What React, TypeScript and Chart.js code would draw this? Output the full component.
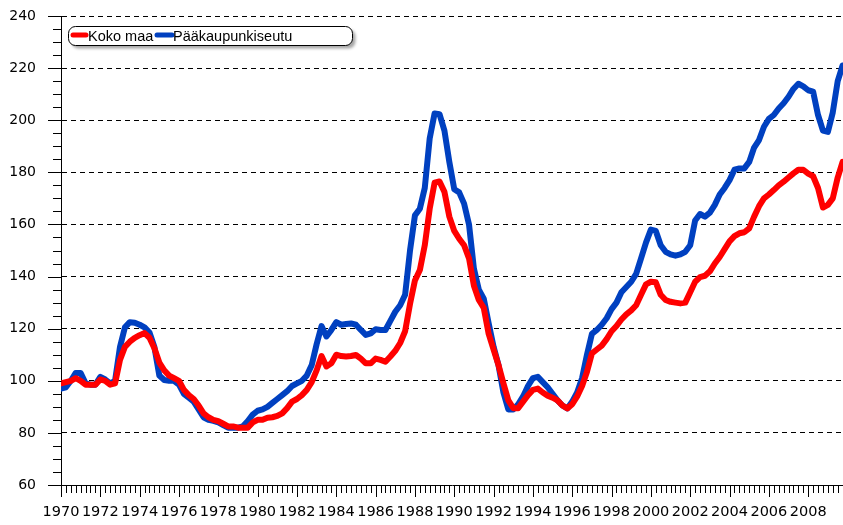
import React, { useEffect, useRef } from 'react';
import { Chart, registerables } from 'chart.js';

Chart.register(...registerables);

// Quarterly index values, 1970 Q1 – 2009 Q4 (1970 ≈ 100)
const START_YEAR = 1970;
const QUARTERS_PER_YEAR = 4;

const kokoMaa: number[] = [
  99, 99.5, 100, 101,
  100, 98.5, 98.5, 98.5,
  100.5, 100, 98.5, 99,
  108, 113, 115, 116.5,
  117.5, 118.3, 116.5, 112.5,
  107, 104, 102, 101,
  100, 96.5, 94.5, 93,
  90.5, 87.5, 86, 85,
  84.5, 83.5, 82.5, 82.5,
  82, 82, 82, 84,
  85, 85, 85.8, 86,
  86.5, 87.5, 89.5, 92,
  93, 94.5, 96.5, 99.5,
  104, 109.5, 105.5, 106.7,
  110, 109.5, 109.3, 109.5,
  109.9, 108.5, 106.7, 106.7,
  108.5, 108, 107.3, 109.3,
  111.5, 114.5, 119, 129.5,
  138.5, 142.5, 152, 166,
  176, 176.5, 172.5, 163,
  157.5, 154.5, 152, 147,
  136.5, 131, 128, 118,
  112, 106, 99, 92.5,
  89.5, 89.5, 92, 94.5,
  96.5, 97, 95.5, 94.3,
  93.5, 92.5, 90.5, 89.4,
  91, 94, 98, 103.5,
  110.5, 112, 113.5, 116,
  119, 121, 123.5, 125.5,
  127, 129, 133, 137,
  138, 137.8, 133, 131,
  130.3, 130, 129.7, 130,
  134, 138, 139.8, 140.3,
  142, 145, 147.5, 150.5,
  153.5, 155.5, 156.6, 157,
  158.5, 163, 167, 170,
  171.5, 173.2, 175, 176.4,
  178, 179.6, 181, 181,
  179.5, 178.5, 174, 166.5,
  167.5, 170, 178, 184,
];

const paakaupunkiseutu: number[] = [
  97, 97.5, 100, 103,
  103, 99, 98.5, 98.5,
  101.5, 100.5, 99, 100,
  113, 120.5, 122.5, 122.3,
  121.5, 120.5, 118.5, 113,
  102, 100.3, 100, 100,
  98.5, 95, 93.5, 92,
  89, 86, 85, 84.6,
  84, 83, 82, 82,
  82, 82.5, 84.5, 87,
  88.5, 89, 90, 91.5,
  93, 94.5, 96, 98,
  99, 100, 102, 106,
  114, 121, 117, 119.5,
  122.5, 121.5, 121.8, 122,
  121.5, 119.5, 117.6, 118.2,
  119.8, 119.5, 119.5, 123,
  126.5, 129, 133, 150,
  163.5, 166, 174, 193,
  202.6, 202.3, 196, 184,
  173.5, 172.3, 168, 160,
  143, 135, 131.5, 122,
  113, 106, 95.5, 89,
  89, 91, 94, 98,
  101, 101.5, 99.5, 97.5,
  95, 92.5, 90.5, 89.4,
  92, 95.5, 101, 110,
  118, 119.5, 121.5, 124,
  127.5, 130, 134, 136,
  138, 141, 147, 153,
  158, 157.5, 152, 149.5,
  148.5, 148, 148.5, 149.5,
  152, 161.5, 164, 163,
  164.5, 167.5, 171.5, 174,
  177, 181, 181.5, 181.5,
  184, 189.5, 192.4, 197.5,
  200.5, 202, 204.5, 206.5,
  209, 212, 214, 213,
  211.5, 211, 202, 196,
  195.5, 203, 215, 221,
];

const seriesLabels = ['Koko maa', 'Pääkaupunkiseutu'];
const seriesColors = ['#ff0000', '#0040c0'];

const X_MIN = 1970;
const X_MAX = 2009.77;
const Y_MIN = 60;
const Y_MAX = 240;
const Y_MAJOR = 20;
const Y_MINOR = 5;
const X_MAJOR = 2;
const X_MINOR = 0.25;

const toPoints = (vals: number[]) =>
  vals.map((v, i) => ({ x: START_YEAR + i / QUARTERS_PER_YEAR, y: v }));

const decorPlugin = {
  id: 'decor',
  afterDraw(chart: any) {
    const { ctx, chartArea } = chart;
    const xs = chart.scales.x;
    const ys = chart.scales.y;
    ctx.save();
    ctx.strokeStyle = '#000';
    ctx.lineWidth = 1;
    // y ticks
    ctx.beginPath();
    for (let v = Y_MIN; v <= Y_MAX + 1e-9; v += Y_MINOR) {
      const y = Math.round(ys.getPixelForValue(v)) + 0.5;
      const len = v % Y_MAJOR === 0 ? 13 : 8;
      ctx.moveTo(chartArea.left - len, y);
      ctx.lineTo(chartArea.left + 0.5, y);
    }
    // x ticks
    for (let v = X_MIN; v <= X_MAX + 1e-9; v += X_MINOR) {
      const x = Math.round(xs.getPixelForValue(v)) + 0.5;
      const len = Math.abs(v % X_MAJOR) < 1e-9 ? 12 : 8;
      ctx.moveTo(x, chartArea.bottom);
      ctx.lineTo(x, chartArea.bottom + len);
    }
    ctx.stroke();

    // legend
    const bx = 68.5, by = 26.5, bw = 284, bh = 19, r = 7;
    const rr = () => {
      ctx.beginPath();
      ctx.moveTo(bx + r, by);
      ctx.lineTo(bx + bw - r, by);
      ctx.arcTo(bx + bw, by, bx + bw, by + r, r);
      ctx.lineTo(bx + bw, by + bh - r);
      ctx.arcTo(bx + bw, by + bh, bx + bw - r, by + bh, r);
      ctx.lineTo(bx + r, by + bh);
      ctx.arcTo(bx, by + bh, bx, by + bh - r, r);
      ctx.lineTo(bx, by + r);
      ctx.arcTo(bx, by, bx + r, by, r);
      ctx.closePath();
    };
    ctx.save();
    ctx.shadowColor = 'rgba(0,0,0,0.35)';
    ctx.shadowOffsetX = 3;
    ctx.shadowOffsetY = 3;
    ctx.shadowBlur = 3;
    rr();
    ctx.fillStyle = '#fff';
    ctx.fill();
    ctx.restore();
    rr();
    ctx.strokeStyle = '#000';
    ctx.lineWidth = 1;
    ctx.stroke();

    const ds = chart.data.datasets;
    const items = [
      { x0: 73, x1: 86, tx: 88 },
      { x0: 157, x1: 172, tx: 173 },
    ];
    ctx.font = '14.5px "Liberation Sans", Arial, sans-serif';
    ctx.textBaseline = 'middle';
    ctx.textAlign = 'left';
    ds.forEach((d: any, i: number) => {
      const it = items[i];
      ctx.beginPath();
      ctx.lineCap = 'round';
      ctx.lineWidth = 5;
      ctx.strokeStyle = d.borderColor;
      ctx.moveTo(it.x0, 35);
      ctx.lineTo(it.x1, 35);
      ctx.stroke();
      ctx.fillStyle = '#000';
      ctx.fillText(d.label, it.tx, 37);
    });
    ctx.restore();
  },
};

export default function App() {
  const ref = useRef<HTMLCanvasElement | null>(null);
  useEffect(() => {
    document.body.style.margin = '0';
    const canvas = ref.current;
    if (!canvas) return;
    const chart = new Chart(canvas, {
      type: 'line',
      data: {
        datasets: [
          {
            label: seriesLabels[0],
            data: toPoints(kokoMaa),
            borderColor: seriesColors[0],
            backgroundColor: seriesColors[0],
            borderWidth: 6,
            pointRadius: 0,
            tension: 0,
            borderJoinStyle: 'round',
            borderCapStyle: 'round',
          },
          {
            label: seriesLabels[1],
            data: toPoints(paakaupunkiseutu),
            borderColor: seriesColors[1],
            backgroundColor: seriesColors[1],
            borderWidth: 6,
            pointRadius: 0,
            tension: 0,
            borderJoinStyle: 'round',
            borderCapStyle: 'round',
          },
        ],
      },
      options: {
        animation: false,
        responsive: true,
        maintainAspectRatio: false,
        layout: { padding: { top: 16, left: 0, right: 0, bottom: 0 } },
        plugins: { legend: { display: false }, tooltip: { enabled: false } },
        scales: {
          x: {
            type: 'linear',
            min: X_MIN,
            max: X_MAX,
            afterFit: (s: any) => { s.height = 40; s.paddingRight = 0; s.paddingLeft = 0; },
            ticks: {
              stepSize: X_MAJOR,
              includeBounds: false,
              autoSkip: false,
              maxRotation: 0,
              padding: 19,
              color: '#000',
              font: { family: '"DejaVu Sans", sans-serif', size: 14.5 },
              callback: (v: any) => (Number.isInteger(v) && v % X_MAJOR === 0 ? String(v) : ''),
            },
            grid: { display: false, drawTicks: false },
            border: { display: true, color: '#000', width: 1 },
          },
          y: {
            type: 'linear',
            min: Y_MIN,
            max: Y_MAX,
            afterFit: (s: any) => { s.width = 61; s.paddingTop = 0; s.paddingBottom = 0; },
            ticks: {
              stepSize: Y_MAJOR,
              padding: 25,
              color: '#000',
              font: { family: '"DejaVu Sans", sans-serif', size: 14 },
              callback: (v: any) => String(v),
            },
            grid: {
              drawTicks: false,
              color: (c: any) => (c.tick && c.tick.value === Y_MIN ? 'rgba(0,0,0,0)' : '#000'),
              lineWidth: 1,
            },
            border: { display: true, color: '#000', width: 1, dash: [5, 4] },
          },
        },
      },
      plugins: [decorPlugin],
    });
    return () => chart.destroy();
  }, []);
  return (
    <div style={{ width: 843, height: 525, position: 'relative', background: '#fff' }}>
      <canvas ref={ref} />
    </div>
  );
}
